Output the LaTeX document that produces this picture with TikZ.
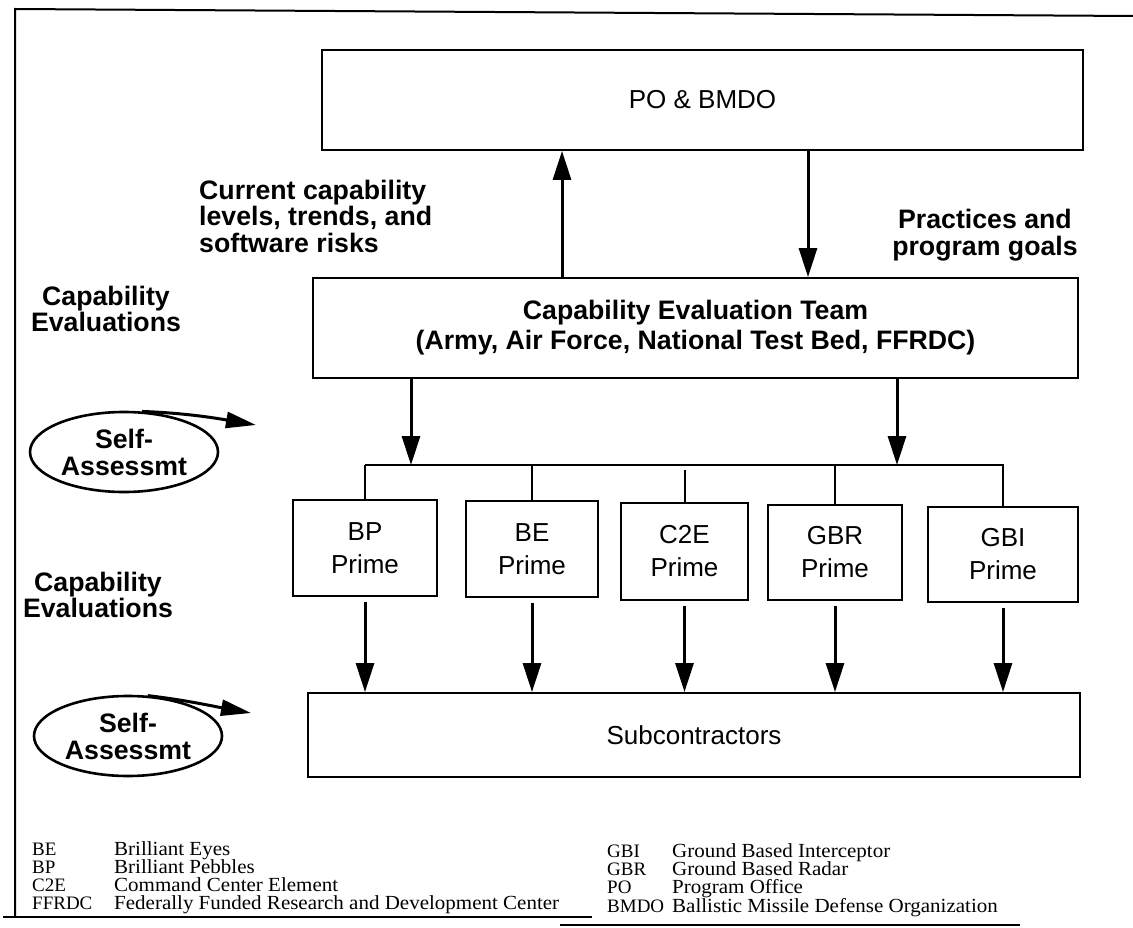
\documentclass[tikz,border=0pt]{standalone}
\usepackage{fontspec}
\setmainfont{Liberation Serif}
\newfontfamily\hv{Liberation Sans}
\newfontfamily\legfont{Liberation Serif}[FakeStretch=1.05]
\usetikzlibrary{arrows.meta,shapes.geometric}
\begin{document}
\begin{tikzpicture}[x=1pt,y=-1pt,
  box/.style={draw,line width=1.9pt,inner sep=0pt,align=center,
    font=\hv\fontsize{26}{33}\selectfont},
  boldtxt/.style={inner sep=0pt,font=\hv\bfseries\fontsize{26.7}{26.5}\selectfont},
  arr/.style={line width=3pt,-{Triangle[length=29pt,width=18pt]}},
  sarr/.style={line width=3pt,-{Triangle[length=30pt,width=16pt]}},
  link/.style={line width=2pt},
  frame/.style={line width=2pt},
  ell/.style={ellipse,draw,line width=2.6pt,inner sep=0pt,align=center,
    minimum width=188pt,minimum height=80pt,
    font=\hv\bfseries\fontsize{26.7}{27}\selectfont},
  abbr/.style={inner sep=0pt,anchor=base west,font=\fontsize{19}{20}\selectfont},
  desc/.style={inner sep=0pt,anchor=base west,font=\legfont\fontsize{20}{20}\selectfont}]
\useasboundingbox (0,0) rectangle (1133,928);
\fill[white] (0,0) rectangle (1133,928);

% frame
\draw[frame] (1133,16) -- (15,9) -- (15,917);
\draw[frame] (3,917) -- (592,917);
\draw[frame] (560,925) -- (1020,925);

% main boxes
\node[box,minimum width=761pt,minimum height=100pt] (po) at (702.5,100) {PO \& BMDO};
\node[box,minimum width=765pt,minimum height=100pt,
  font=\hv\bfseries\fontsize{26.7}{30}\selectfont] (cet) at (695.5,328)
  {Capability Evaluation Team\\(Army, Air Force, National Test Bed, FFRDC)};

\node[box,minimum width=144pt,minimum height=96pt] (bp)  at (365,548)   {BP\\Prime};
\node[box,minimum width=132pt,minimum height=96pt] (be)  at (532,549)   {BE\\Prime};
\node[box,minimum width=127pt,minimum height=97pt] (c2e) at (684.5,551.5) {C2E\\Prime};
\node[box,minimum width=134pt,minimum height=95pt] (gbr) at (835,552.5) {GBR\\Prime};
\node[box,minimum width=150pt,minimum height=95pt] (gbi) at (1003,554.5) {GBI\\Prime};

\node[box,minimum width=772pt,minimum height=84pt] (sub) at (694,735) {Subcontractors};

% side labels
\node[boldtxt,align=left,anchor=west] (cur) at (199,216)
  {Current capability\\levels, trends, and\\software risks};
\node[boldtxt,align=center] (prac) at (985,235) {Practices and\\program goals};
\node[boldtxt,align=center] (ce1) at (106,309) {Capability\\Evaluations};
\node[boldtxt,align=center] (ce2) at (98,595) {Capability\\Evaluations};

% self assessment ellipses
\node[ell] (sa1) at (124,452) {Self-\\Assessmt};
\node[ell] (sa2) at (128,736) {Self-\\Assessmt};
\coordinate (t1) at (256,425);
\coordinate (t2) at (251,713);
\draw[sarr] (sa1.66) .. controls (185,413) and (215,418) .. (t1);
\draw[sarr] (sa2.64) .. controls (185,700) and (212,706) .. (t2);

% PO <-> CET
\draw[arr] (cet.north -| 562,0) -- (po.south -| 562,0);
\draw[arr] (po.south -| 808,0) -- (cet.north -| 808,0);

% bus
\coordinate (busL) at (365,465);
\coordinate (busR) at (1004,465);
\draw[link] (busL) -- (busR);
\draw[arr] (cet.south -| 411,0) -- (411,465);
\draw[arr] (cet.south -| 897,0) -- (897,465);
\draw[link] (bp.north |- busL) -- (bp.north);
\draw[link] (be.north |- busL) -- (be.north);
\draw[link] ([yshift=-5pt]c2e.north |- busL) -- (c2e.north);
\draw[link] (gbr.north |- busL) -- (gbr.north);
\draw[link] (gbi.north |- busL) -- (gbi.north);

% primes -> subcontractors
\foreach \n in {bp,be,c2e,gbr,gbi}{
  \draw[arr] ([yshift=-5pt]\n.south) -- (\n.south |- sub.north);
}

% legend
\node[abbr] (k1) at (32,855) {BE};
\node[desc] (d1) at (114,855) {Brilliant Eyes};
\node[abbr] (k2) at (32,873) {BP};
\node[desc] (d2) at (114,873) {Brilliant Pebbles};
\node[abbr] (k3) at (32,891) {C2E};
\node[desc] (d3) at (114,891) {Command Center Element};
\node[abbr] (k4) at (32,909) {FFRDC};
\node[desc] (d4) at (114,909) {Federally Funded Research and Development Center};
\node[abbr] (k5) at (607,857) {GBI};
\node[desc] (d5) at (672,857) {Ground Based Interceptor};
\node[abbr] (k6) at (607,875) {GBR};
\node[desc] (d6) at (672,875) {Ground Based Radar};
\node[abbr] (k7) at (607,893) {PO};
\node[desc] (d7) at (672,893) {Program Office};
\node[abbr] (k8) at (607,912) {BMDO};
\node[desc] (d8) at (672,912) {Ballistic Missile Defense Organization};
\end{tikzpicture}
\end{document}
